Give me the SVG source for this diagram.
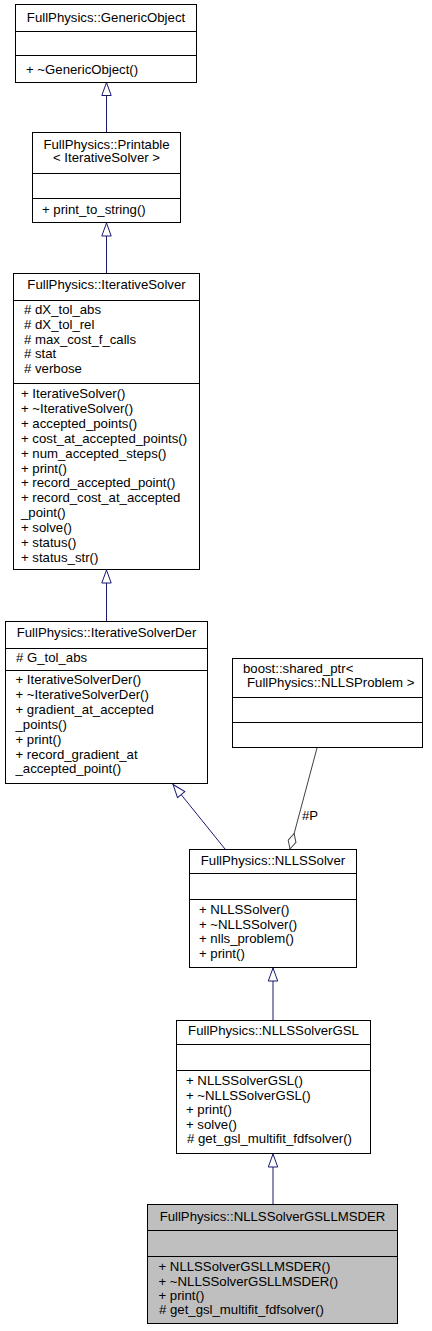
<svg xmlns="http://www.w3.org/2000/svg" width="432" height="1331" viewBox="0 0 432 1331">
<style>
  .box { fill: #ffffff; stroke: #000000; stroke-width: 1; }
  .hl { fill: #bfbfbf; }
  .div { stroke: #000000; stroke-width: 1; }
  text { font-family: "Liberation Sans", Arial, sans-serif; font-size: 13.2px; fill: #000000; }
  .t { text-anchor: middle; }
  .gen { fill: none; stroke: #191970; stroke-width: 1; marker-end: url(#genArrow); }
  .agg { fill: none; stroke: #404040; stroke-width: 1; marker-end: url(#aggDiamond); }
</style>
<defs>
  <marker id="genArrow" markerUnits="userSpaceOnUse" orient="auto" refX="0" refY="0" markerWidth="16" markerHeight="12" overflow="visible">
    <path d="M-13,-4.7 L0,0 L-13,4.7 Z" fill="#ffffff" stroke="#191970" stroke-width="1"/>
  </marker>
  <marker id="aggDiamond" markerUnits="userSpaceOnUse" orient="auto" refX="0" refY="0" markerWidth="18" markerHeight="10" overflow="visible">
    <path d="M0,0 L-8,-4 L-16,0 L-8,4 Z" fill="#ffffff" stroke="#404040" stroke-width="1"/>
  </marker>
</defs>
<rect width="432" height="1331" fill="#ffffff"/>

<g id="connectors">
  <path class="gen" d="M106.5,132 L106.5,82.5"/>
  <path class="gen" d="M106.5,273 L106.5,223"/>
  <path class="gen" d="M106.5,621 L106.5,570"/>
  <path class="gen" d="M225,849 L173,784.5"/>
  <path class="gen" d="M273,1020 L273,968"/>
  <path class="gen" d="M273,1204 L273,1154"/>
  <path class="agg" d="M317,748 L290,849"/>
  <text x="302" y="820">#P</text>
</g>

<g id="GenericObject">
  <rect class="box" x="15.5" y="4.5" width="181" height="78"/>
  <line class="div" x1="15.5" y1="31.5" x2="196.5" y2="31.5"/>
  <line class="div" x1="15.5" y1="55.5" x2="196.5" y2="55.5"/>
  <text class="t" x="106" y="22">FullPhysics::GenericObject</text>
  <text x="26" y="74">+ ~GenericObject()</text>
</g>

<g id="Printable">
  <rect class="box" x="32.5" y="132.5" width="148" height="90"/>
  <line class="div" x1="32.5" y1="173.5" x2="180.5" y2="173.5"/>
  <line class="div" x1="32.5" y1="198.5" x2="180.5" y2="198.5"/>
  <text class="t" x="106.5" y="149">FullPhysics::Printable</text>
  <text class="t" x="106.5" y="162">&lt; IterativeSolver &gt;</text>
  <text x="42" y="214">+ print_to_string()</text>
</g>

<g id="IterativeSolver">
  <rect class="box" x="13.5" y="273.5" width="186" height="296"/>
  <line class="div" x1="13.5" y1="300.5" x2="199.5" y2="300.5"/>
  <line class="div" x1="13.5" y1="383.5" x2="199.5" y2="383.5"/>
  <text class="t" x="106.5" y="289">FullPhysics::IterativeSolver</text>
  <text x="24" y="314"># dX_tol_abs</text>
  <text x="24" y="329"># dX_tol_rel</text>
  <text x="24" y="344"># max_cost_f_calls</text>
  <text x="24" y="358"># stat</text>
  <text x="24" y="373"># verbose</text>
  <text x="21" y="398">+ IterativeSolver()</text>
  <text x="21" y="413">+ ~IterativeSolver()</text>
  <text x="21" y="428">+ accepted_points()</text>
  <text x="21" y="443">+ cost_at_accepted_points()</text>
  <text x="21" y="458">+ num_accepted_steps()</text>
  <text x="21" y="473">+ print()</text>
  <text x="21" y="487">+ record_accepted_point()</text>
  <text x="21" y="502">+ record_cost_at_accepted</text>
  <text x="21" y="517">_point()</text>
  <text x="21" y="532">+ solve()</text>
  <text x="21" y="547">+ status()</text>
  <text x="21" y="562">+ status_str()</text>
</g>

<g id="IterativeSolverDer">
  <rect class="box" x="5.5" y="621.5" width="202" height="162"/>
  <line class="div" x1="5.5" y1="648.5" x2="207.5" y2="648.5"/>
  <line class="div" x1="5.5" y1="670.5" x2="207.5" y2="670.5"/>
  <text class="t" x="106.5" y="637">FullPhysics::IterativeSolverDer</text>
  <text x="16" y="662"># G_tol_abs</text>
  <text x="15.5" y="684">+ IterativeSolverDer()</text>
  <text x="15.5" y="699">+ ~IterativeSolverDer()</text>
  <text x="15.5" y="714">+ gradient_at_accepted</text>
  <text x="15.5" y="729">_points()</text>
  <text x="15.5" y="744">+ print()</text>
  <text x="15.5" y="759">+ record_gradient_at</text>
  <text x="15.5" y="773">_accepted_point()</text>
</g>

<g id="SharedPtrNLLSProblem">
  <rect class="box" x="232.5" y="658.5" width="190" height="89"/>
  <line class="div" x1="232.5" y1="697.5" x2="422.5" y2="697.5"/>
  <line class="div" x1="232.5" y1="722.5" x2="422.5" y2="722.5"/>
  <text x="243" y="673">boost::shared_ptr&lt;</text>
  <text x="247" y="687">FullPhysics::NLLSProblem &gt;</text>
</g>

<g id="NLLSSolver">
  <rect class="box" x="189.5" y="849.5" width="167" height="118"/>
  <line class="div" x1="189.5" y1="873.5" x2="356.5" y2="873.5"/>
  <line class="div" x1="189.5" y1="899.5" x2="356.5" y2="899.5"/>
  <text class="t" x="273" y="865">FullPhysics::NLLSSolver</text>
  <text x="199" y="914">+ NLLSSolver()</text>
  <text x="199" y="929">+ ~NLLSSolver()</text>
  <text x="199" y="943">+ nlls_problem()</text>
  <text x="199" y="958">+ print()</text>
</g>

<g id="NLLSSolverGSL">
  <rect class="box" x="176.5" y="1020.5" width="194" height="133"/>
  <line class="div" x1="176.5" y1="1044.5" x2="370.5" y2="1044.5"/>
  <line class="div" x1="176.5" y1="1070.5" x2="370.5" y2="1070.5"/>
  <text class="t" x="273.5" y="1035">FullPhysics::NLLSSolverGSL</text>
  <text x="186" y="1085">+ NLLSSolverGSL()</text>
  <text x="186" y="1100">+ ~NLLSSolverGSL()</text>
  <text x="186" y="1114">+ print()</text>
  <text x="186" y="1129">+ solve()</text>
  <text x="187" y="1143"># get_gsl_multifit_fdfsolver()</text>
</g>

<g id="NLLSSolverGSLLMSDER">
  <rect class="box hl" x="147.5" y="1204.5" width="250" height="119"/>
  <line class="div" x1="147.5" y1="1230.5" x2="397.5" y2="1230.5"/>
  <line class="div" x1="147.5" y1="1256.5" x2="397.5" y2="1256.5"/>
  <text class="t" x="272.5" y="1221">FullPhysics::NLLSSolverGSLLMSDER</text>
  <text x="158.5" y="1271">+ NLLSSolverGSLLMSDER()</text>
  <text x="158.5" y="1286">+ ~NLLSSolverGSLLMSDER()</text>
  <text x="158.5" y="1300">+ print()</text>
  <text x="159" y="1314"># get_gsl_multifit_fdfsolver()</text>
</g>
</svg>
